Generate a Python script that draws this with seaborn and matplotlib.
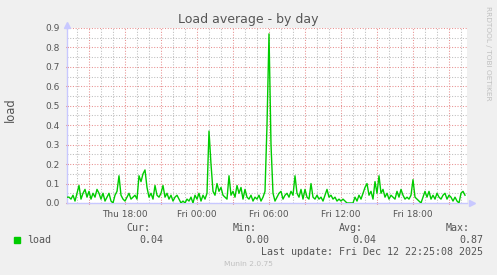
import numpy as np
import pandas as pd
import matplotlib
matplotlib.use("Agg")
import matplotlib.pyplot as plt
import matplotlib.dates as mdates
from matplotlib.patches import Rectangle
import seaborn as sns

# ---- data (10-minute samples) ----
start_time = "2025-12-11 13:10"
load_values = [
    0.03, 0.03, 0.02, 0.04, 0.01, 0.05, 0.09, 0.02, 0.05, 0.07,
    0.03, 0.06, 0.02, 0.05, 0.03, 0.07, 0.05, 0.02, 0.05, 0.01,
    0.03, 0.05, 0.01, 0.00, 0.04, 0.06, 0.14, 0.04, 0.02, 0.01,
    0.03, 0.05, 0.02, 0.03, 0.04, 0.02, 0.14, 0.11, 0.15, 0.17,
    0.08, 0.03, 0.05, 0.02, 0.09, 0.04, 0.03, 0.05, 0.09, 0.03,
    0.05, 0.02, 0.04, 0.01, 0.03, 0.04, 0.02, 0.00, 0.01, 0.00,
    0.02, 0.01, 0.03, 0.00, 0.04, 0.02, 0.05, 0.01, 0.04, 0.02,
    0.05, 0.37, 0.20, 0.06, 0.04, 0.10, 0.06, 0.08, 0.04, 0.03,
    0.02, 0.14, 0.04, 0.06, 0.03, 0.09, 0.05, 0.08, 0.02, 0.07,
    0.03, 0.02, 0.04, 0.01, 0.03, 0.02, 0.04, 0.01, 0.03, 0.06,
    0.40, 0.87, 0.30, 0.05, 0.01, 0.03, 0.05, 0.06, 0.02, 0.04,
    0.05, 0.03, 0.06, 0.04, 0.14, 0.05, 0.03, 0.07, 0.02, 0.07,
    0.03, 0.02, 0.10, 0.03, 0.02, 0.04, 0.02, 0.03, 0.01, 0.04,
    0.07, 0.03, 0.04, 0.02, 0.03, 0.01, 0.02, 0.01, 0.02, 0.01,
    0.00, 0.00, 0.00, 0.00, 0.03, 0.01, 0.04, 0.02, 0.05, 0.08,
    0.10, 0.04, 0.06, 0.02, 0.11, 0.05, 0.14, 0.05, 0.07, 0.03,
    0.05, 0.02, 0.04, 0.03, 0.02, 0.06, 0.03, 0.07, 0.04, 0.02,
    0.03, 0.02, 0.04, 0.12, 0.03, 0.02, 0.01, 0.00, 0.03, 0.06,
    0.03, 0.06, 0.02, 0.04, 0.02, 0.05, 0.03, 0.02, 0.04, 0.05,
    0.02, 0.04, 0.03, 0.01, 0.03, 0.01, 0.00, 0.05, 0.06, 0.04,
]
x_start = "2025-12-11 13:10"
x_end = "2025-12-12 22:30"
y_ticks = [0.0, 0.1, 0.2, 0.3, 0.4, 0.5, 0.6, 0.7, 0.8, 0.9]
legend_headers = ["Cur:", "Min:", "Avg:", "Max:"]
legend_values = ["0.04", "0.00", "0.04", "0.87"]
series_name = "load"
title = "Load average - by day"
last_update = "Last update: Fri Dec 12 22:25:08 2025"

df = pd.DataFrame({
    "time": pd.date_range(start_time, periods=len(load_values), freq="10min"),
    "load": load_values,
})

W, H = 497, 275
fig = plt.figure(figsize=(W / 100, H / 100), dpi=100, facecolor="#F0F0F0")
ax = fig.add_axes([67 / W, 1 - 203 / H, 400 / W, 175 / H])
ax.set_facecolor("white")

GREEN = "#00CC00"
sns.lineplot(data=df, x="time", y="load", ax=ax, color=GREEN, linewidth=1.0, zorder=5)

ax.set_xlim(pd.Timestamp(x_start), pd.Timestamp(x_end))
ax.set_ylim(0, 0.9)

# ticks / grid
ax.xaxis.set_major_locator(mdates.HourLocator(byhour=range(0, 24, 3)))
ax.xaxis.set_minor_locator(mdates.HourLocator())


def fmt(x, pos=None):
    d = mdates.num2date(x)
    if d.hour % 6 == 0:
        return d.strftime("%a %H:%M")
    return ""


ax.xaxis.set_major_formatter(plt.FuncFormatter(fmt))
ax.set_yticks(y_ticks)
ax.set_yticklabels([f"{v:.1f}" for v in y_ticks])
ax.set_yticks(np.arange(0.05, 0.9, 0.1), minor=True)

ax.grid(which="minor", color="#BDBDBD", linestyle=(0, (1, 1.6)), linewidth=0.75, zorder=1)
ax.grid(which="major", color="#E89090", linestyle=(0, (1, 1.6)), linewidth=0.75, zorder=2)

ax.tick_params(axis="both", which="both", labelsize=6.5, labelcolor="#555555")
ax.tick_params(axis="x", which="major", color="#E05050", length=2, width=0.8, pad=4, direction="inout")
ax.tick_params(axis="x", which="minor", length=0)
ax.tick_params(axis="y", which="major", color="#E05050", length=2, width=0.8, pad=4, direction="inout")
ax.tick_params(axis="y", which="minor", length=0)

for s in ["top", "right"]:
    ax.spines[s].set_visible(False)
for s in ["left", "bottom"]:
    ax.spines[s].set_color("#C8C8FF")
    ax.spines[s].set_linewidth(1.0)

ax.set_xlabel("")
ax.set_ylabel("")

# arrows at axis ends
ax.plot([0], [1.02], marker="^", color="#C8C8FF", markersize=4, transform=ax.transAxes, clip_on=False)
ax.plot([1.012], [0], marker=">", color="#C8C8FF", markersize=4, transform=ax.transAxes, clip_on=False)


def px(x, y):
    return x / W, 1 - y / H


fig.text(*px(248, 19), title, ha="center", va="center", fontsize=9, color="#555555")
fig.text(*px(10, 110), series_name, ha="center", va="center", rotation=90, fontsize=8.3, color="#555555")
fig.text(*px(488, 53), "RRDTOOL / TOBI OETIKER", ha="center", va="center", rotation=270,
         fontsize=5.3, color="#C0C0C0")

mono = "DejaVu Sans Mono"
fig.add_artist(Rectangle(px(14, 243), 6 / W, 6 / H, transform=fig.transFigure, color=GREEN))
fig.text(*px(27, 240), series_name, ha="left", va="center", fontsize=7.2, family=mono, color="#555555")
header_right = [150, 257, 363, 470]
value_right = [163, 269, 376, 483]
for h, xr in zip(legend_headers, header_right):
    fig.text(*px(xr, 228), h, ha="right", va="center", fontsize=7.2, family=mono, color="#555555")
for v, xr in zip(legend_values, value_right):
    fig.text(*px(xr, 240), v, ha="right", va="center", fontsize=7.2, family=mono, color="#555555")
fig.text(*px(483, 252), last_update, ha="right", va="center", fontsize=7.2, family=mono, color="#555555")
fig.text(*px(248, 264), "Munin 2.0.75", ha="center", va="center", fontsize=5.4, color="#C0C0C0")

fig.savefig("out.png", dpi=100, facecolor=fig.get_facecolor())
